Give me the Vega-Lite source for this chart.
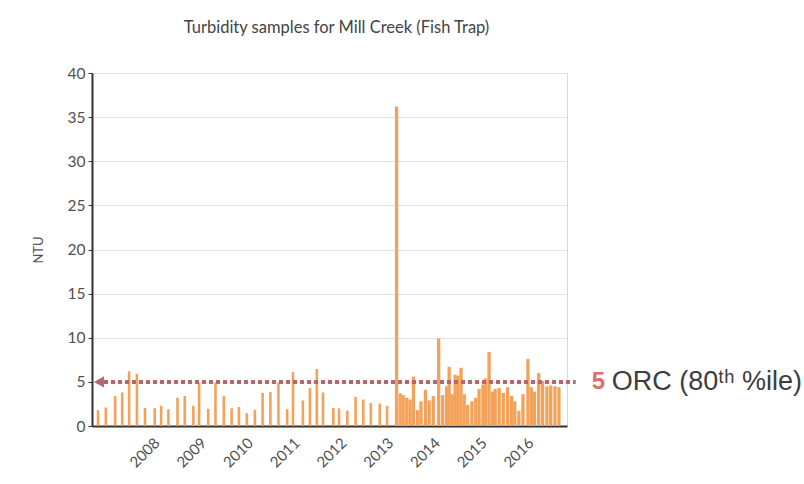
{
  "$schema": "https://vega.github.io/schema/vega-lite/v6.json",
  "width": 475,
  "height": 353,
  "autosize": {"type": "none"},
  "padding": {"left": 92, "top": 73, "right": 237, "bottom": 58},
  "background": "white",
  "config": {"font": "Lato", "view": {"stroke": "#d8d8d8", "strokeWidth": 1}},
  "title": {"text": "Turbidity samples for Mill Creek (Fish Trap)", "fontSize": 16.5, "fontWeight": "normal", "color": "#444444", "anchor": "middle", "offset": 30, "dx": 7, "font": "Lato"},
  "datasets": {
    "samples": [
      {"date": "2006-09-06", "ntu": 1.8},
      {"date": "2006-11-06", "ntu": 2.1},
      {"date": "2007-01-18", "ntu": 3.4},
      {"date": "2007-03-14", "ntu": 3.8},
      {"date": "2007-05-07", "ntu": 6.2},
      {"date": "2007-07-07", "ntu": 5.9},
      {"date": "2007-09-08", "ntu": 2.05},
      {"date": "2007-11-23", "ntu": 2.0},
      {"date": "2008-01-12", "ntu": 2.3},
      {"date": "2008-03-09", "ntu": 1.9},
      {"date": "2008-05-19", "ntu": 3.2},
      {"date": "2008-07-15", "ntu": 3.4},
      {"date": "2008-09-20", "ntu": 2.3},
      {"date": "2008-11-04", "ntu": 4.9},
      {"date": "2009-01-14", "ntu": 1.95},
      {"date": "2009-03-12", "ntu": 4.9},
      {"date": "2009-05-16", "ntu": 3.4},
      {"date": "2009-07-16", "ntu": 2.0},
      {"date": "2009-09-11", "ntu": 2.15},
      {"date": "2009-11-12", "ntu": 1.45},
      {"date": "2010-01-14", "ntu": 1.85},
      {"date": "2010-03-15", "ntu": 3.75},
      {"date": "2010-05-15", "ntu": 3.85},
      {"date": "2010-07-17", "ntu": 4.9},
      {"date": "2010-09-23", "ntu": 1.9},
      {"date": "2010-11-08", "ntu": 6.1},
      {"date": "2011-01-24", "ntu": 2.9},
      {"date": "2011-03-20", "ntu": 4.3},
      {"date": "2011-05-13", "ntu": 6.45},
      {"date": "2011-06-30", "ntu": 3.8},
      {"date": "2011-09-19", "ntu": 2.05},
      {"date": "2011-11-02", "ntu": 2.0},
      {"date": "2012-01-06", "ntu": 1.75},
      {"date": "2012-03-11", "ntu": 3.3},
      {"date": "2012-05-10", "ntu": 3.0},
      {"date": "2012-07-08", "ntu": 2.6},
      {"date": "2012-09-16", "ntu": 2.55},
      {"date": "2012-11-12", "ntu": 2.3},
      {"date": "2013-01-25", "ntu": 36.2},
      {"date": "2013-02-22", "ntu": 3.7},
      {"date": "2013-03-18", "ntu": 3.5},
      {"date": "2013-04-15", "ntu": 3.2},
      {"date": "2013-05-11", "ntu": 3.0},
      {"date": "2013-06-06", "ntu": 5.6},
      {"date": "2013-07-08", "ntu": 1.8},
      {"date": "2013-08-04", "ntu": 2.8},
      {"date": "2013-09-08", "ntu": 4.1},
      {"date": "2013-10-07", "ntu": 2.9},
      {"date": "2013-11-08", "ntu": 3.4},
      {"date": "2013-12-20", "ntu": 9.9},
      {"date": "2014-01-20", "ntu": 3.5},
      {"date": "2014-02-20", "ntu": 4.5},
      {"date": "2014-03-12", "ntu": 6.7},
      {"date": "2014-04-05", "ntu": 3.6},
      {"date": "2014-04-28", "ntu": 5.8},
      {"date": "2014-05-20", "ntu": 5.7},
      {"date": "2014-06-13", "ntu": 6.6},
      {"date": "2014-07-08", "ntu": 3.6},
      {"date": "2014-08-04", "ntu": 2.4},
      {"date": "2014-09-06", "ntu": 2.8},
      {"date": "2014-10-06", "ntu": 3.2},
      {"date": "2014-11-01", "ntu": 4.2},
      {"date": "2014-12-01", "ntu": 4.7},
      {"date": "2014-12-22", "ntu": 5.4},
      {"date": "2015-01-18", "ntu": 8.4},
      {"date": "2015-02-14", "ntu": 3.9},
      {"date": "2015-03-07", "ntu": 4.2},
      {"date": "2015-04-07", "ntu": 4.3},
      {"date": "2015-05-09", "ntu": 3.75},
      {"date": "2015-06-12", "ntu": 4.4},
      {"date": "2015-07-13", "ntu": 3.4},
      {"date": "2015-08-07", "ntu": 2.8},
      {"date": "2015-09-08", "ntu": 1.7},
      {"date": "2015-10-10", "ntu": 3.6},
      {"date": "2015-11-18", "ntu": 7.6},
      {"date": "2015-12-14", "ntu": 4.4},
      {"date": "2016-01-08", "ntu": 3.9},
      {"date": "2016-02-10", "ntu": 6.0},
      {"date": "2016-03-11", "ntu": 5.1},
      {"date": "2016-04-14", "ntu": 4.5},
      {"date": "2016-05-14", "ntu": 4.6},
      {"date": "2016-06-16", "ntu": 4.5},
      {"date": "2016-07-17", "ntu": 4.4}
    ],
    "orc": [
      {"date": "2006-08-29", "end": "2016-11-25", "ntu": 5}
    ],
    "orcLabel": [
      {"date": "2016-11-25", "ntu": 5, "label": "5", "note": "ORC (80ᵗʰ %ile)"}
    ]
  },
  "encoding": {
    "x": {
      "field": "date", "type": "temporal",
      "scale": {"domain": ["2006-08-29", "2016-08-10"]},
      "axis": {
        "title": null,
        "values": [
          {"year": 2008, "month": 1, "date": 1},
          {"year": 2009, "month": 1, "date": 1},
          {"year": 2010, "month": 1, "date": 1},
          {"year": 2011, "month": 1, "date": 1},
          {"year": 2012, "month": 1, "date": 1},
          {"year": 2013, "month": 1, "date": 1},
          {"year": 2014, "month": 1, "date": 1},
          {"year": 2015, "month": 1, "date": 1},
          {"year": 2016, "month": 1, "date": 1}
        ],
        "format": "%Y",
        "labelAngle": -45,
        "labelFontSize": 15,
        "labelColor": "#505050",
        "labelPadding": 9,
        "labelOffset": -8,
        "ticks": false,
        "grid": false,
        "domainColor": "#333333",
        "domainWidth": 2
      }
    },
    "y": {
      "field": "ntu", "type": "quantitative",
      "scale": {"domain": [0, 40]},
      "axis": {
        "title": "NTU",
        "titleFontSize": 13,
        "titleFontWeight": "normal",
        "titleColor": "#555555",
        "titlePadding": 22,
        "values": [0, 5, 10, 15, 20, 25, 30, 35, 40],
        "labelFontSize": 15.5,
        "labelColor": "#505050",
        "labelPadding": 3,
        "tickSize": 4,
        "tickColor": "#333333",
        "domainColor": "#333333",
        "domainWidth": 2,
        "gridColor": "#e3e3e3"
      }
    }
  },
  "layer": [
    {
      "data": {"name": "samples"},
      "transform": [{"filter": "toDate(datum.date) < toDate('2013-01-01')"}],
      "mark": {"type": "bar", "size": 2.6, "color": "#f4a25a"}
    },
    {
      "data": {"name": "samples"},
      "transform": [{"filter": "toDate(datum.date) >= toDate('2013-01-01')"}],
      "mark": {"type": "bar", "size": 3.3, "color": "#f4a25a"}
    },
    {
      "data": {"name": "orc"},
      "mark": {"type": "rule", "color": "#b5676f", "strokeWidth": 4, "strokeDash": [4, 3]},
      "encoding": {"x2": {"field": "end"}}
    },
    {
      "data": {"name": "orc"},
      "mark": {"type": "point", "shape": "triangle-left", "filled": true, "size": 130, "color": "#b5676f", "opacity": 1, "xOffset": 2}
    },
    {
      "data": {"name": "orcLabel"},
      "mark": {"type": "text", "align": "left", "baseline": "middle", "dx": 16, "fontSize": 24, "fontWeight": "bold", "color": "#e26b6b", "font": "Liberation Sans"},
      "encoding": {"text": {"field": "label"}}
    },
    {
      "data": {"name": "orcLabel"},
      "mark": {"type": "text", "align": "left", "baseline": "middle", "dx": 36, "fontSize": 27, "color": "#3d3d3d", "font": "Liberation Sans"},
      "encoding": {"text": {"field": "note"}}
    }
  ]
}
